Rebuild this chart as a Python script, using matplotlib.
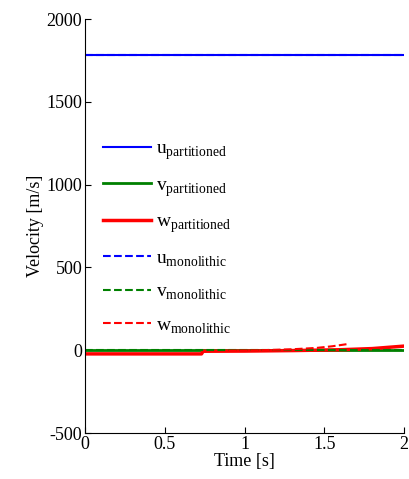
import matplotlib
matplotlib.use("Agg")
import matplotlib.pyplot as plt
import numpy as np

plt.rcParams['font.family'] = ['Liberation Serif', 'DejaVu Serif']
plt.rcParams['mathtext.fontset'] = 'custom'
plt.rcParams['mathtext.rm'] = 'Liberation Serif'
plt.rcParams['axes.unicode_minus'] = False

# Data
t_u = [0.0, 2.0]
u_part = [1785, 1785]
u_mono = [1785, 1785]
t_v = [0.0, 2.0]
v_part = [3, 3]
v_mono = [0, 0]
t_w_part = [0.0, 0.73, 0.74, 1.0, 1.3, 1.6, 1.8, 2.0]
w_part = [-22, -22, -6, -5, -2, 3, 10, 25]
t_w_mono = [0.9, 1.1, 1.3, 1.45, 1.55, 1.65]
w_mono = [-2, 0, 6, 14, 24, 38]

fig = plt.figure(figsize=(4.09, 4.79), dpi=100)
ax = fig.add_axes([0.208, 0.096, 0.780, 0.864])

ax.plot(t_u, u_part, color='#0000ff', lw=1.5, label=r'$\mathrm{u}_{\mathrm{partitioned}}$')
ax.plot(t_v, v_part, color='#008000', lw=2.0, label=r'$\mathrm{v}_{\mathrm{partitioned}}$')
ax.plot(t_w_part, w_part, color='#ff0000', lw=2.5, label=r'$\mathrm{w}_{\mathrm{partitioned}}$')
ax.plot(t_u, u_mono, color='#0000ff', lw=1.5, ls='--', label=r'$\mathrm{u}_{\mathrm{monolithic}}$')
ax.plot(t_v, v_mono, color='#008000', lw=1.5, ls='--', label=r'$\mathrm{v}_{\mathrm{monolithic}}$')
ax.plot(t_w_mono, w_mono, color='#ff0000', lw=1.5, ls='--', label=r'$\mathrm{w}_{\mathrm{monolithic}}$')

ax.set_xlim(0, 2)
ax.set_ylim(-500, 2000)
ax.set_xticks([0, 0.5, 1, 1.5, 2])
ax.set_xticklabels(['0', '0.5', '1', '1.5', '2'])
ax.set_yticks([-500, 0, 500, 1000, 1500, 2000])
ax.spines['top'].set_visible(False)
ax.spines['right'].set_visible(False)
ax.tick_params(direction='in', labelsize=13, length=4, pad=2)
ax.set_xlabel('Time [s]', fontsize=13, labelpad=0)
ax.set_ylabel('Velocity [m/s]', fontsize=13, labelpad=2)

ax.legend(loc='upper left', bbox_to_anchor=(0.0, 0.75), frameon=False,
          fontsize=14, handlelength=2.5, labelspacing=0.75, handletextpad=0.25)

fig.savefig('out.png', dpi=100)
